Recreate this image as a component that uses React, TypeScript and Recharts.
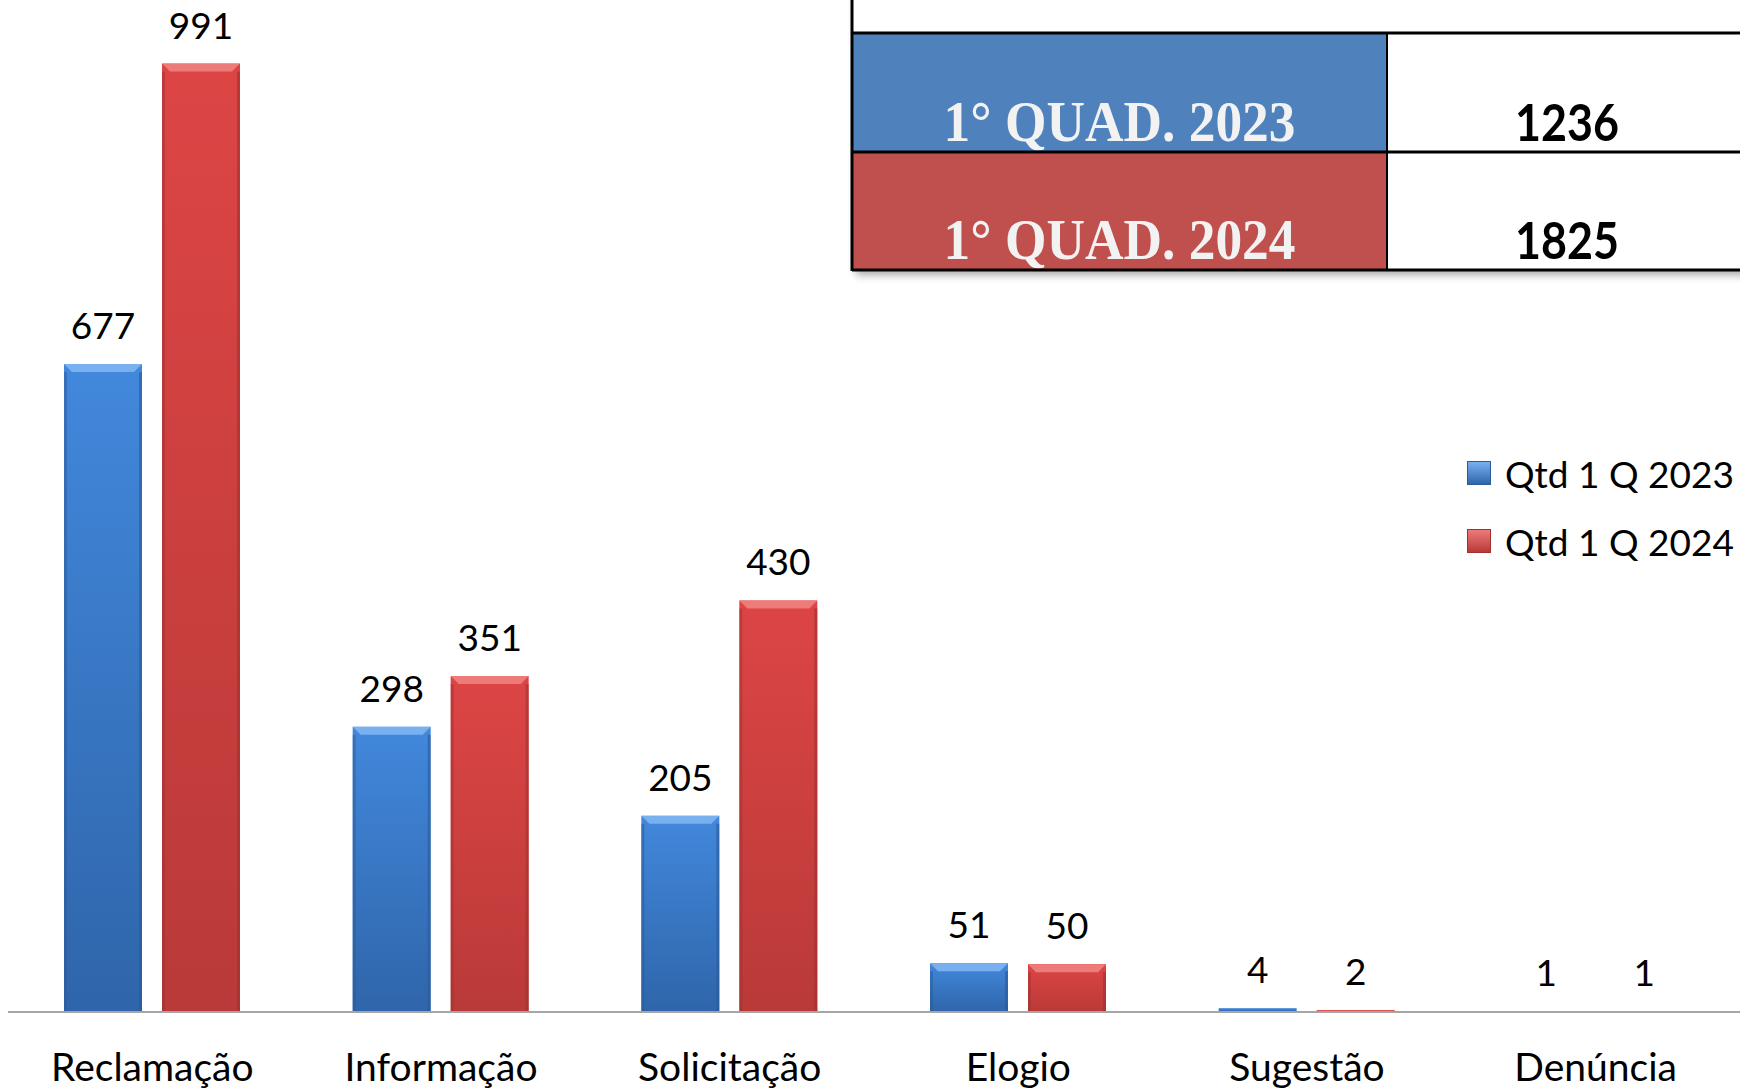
import { BarChart, Bar, XAxis, YAxis, Legend, LabelList } from 'recharts'

const categories = ['Reclamação', 'Informação', 'Solicitação', 'Elogio', 'Sugestão', 'Denúncia']
const qtd2023 = [677, 298, 205, 51, 4, 1]
const qtd2024 = [991, 351, 430, 50, 2, 1]
const seriesNames = ['Qtd 1 Q 2023', 'Qtd 1 Q 2024']
const totalLabels = ['1° QUAD. 2023', '1° QUAD. 2024']
const totals = [1236, 1825]

const data = categories.map((name, i) => ({ name, q2023: qtd2023[i], q2024: qtd2024[i] }))

const FONT = 'Lato, "Open Sans", sans-serif'

const palette: Record<string, { top: string; bottom: string; bevel: string; edge: string }> = {
  q2023: { top: '#4288dc', bottom: '#2f65aa', bevel: '#79b0f0', edge: '#2a5a98' },
  q2024: { top: '#dd4545', bottom: '#b93a38', bevel: '#ec7b79', edge: '#a03030' },
}

// bar with a small bevel on top and darker sides, like the office 3d style
function BevelBar(props: any) {
  const { x, y, width, height, dataKey } = props
  const c = palette[dataKey as string] || palette.q2023
  if (height <= 0) return null
  const b = Math.min(8, height / 2)
  const s = Math.min(3, width / 10)
  return (
    <g>
      <rect x={x} y={y} width={width} height={height} fill={`url(#grad-${dataKey})`} />
      {height > 4 && (
        <>
          <polygon
            points={`${x},${y} ${x + width},${y} ${x + width - b},${y + b} ${x + b},${y + b}`}
            fill={c.bevel}
          />
          <rect x={x} y={y + b} width={s} height={height - b} fill={c.edge} opacity={0.5} />
          <rect x={x + width - s} y={y + b} width={s} height={height - b} fill={c.edge} opacity={0.6} />
        </>
      )}
    </g>
  )
}

function CategoryTick(props: any) {
  const { x, y, payload } = props
  return (
    <text x={x} y={y + 69} textAnchor="middle" fontFamily={FONT} fontSize={39} fill="#000">
      {payload.value}
    </text>
  )
}

function LegendBox() {
  const keys = ['q2023', 'q2024']
  return (
    <div style={{ fontFamily: FONT, fontSize: 37, color: '#000' }}>
      {seriesNames.map((n, i) => (
        <div key={n} style={{ display: 'flex', alignItems: 'center', height: 68 }}>
          <span
            style={{
              display: 'inline-block',
              width: 22,
              height: 22,
              marginRight: 14,
              background: `linear-gradient(${palette[keys[i]].bevel}, ${palette[keys[i]].bottom})`,
              border: `1px solid ${palette[keys[i]].edge}`,
            }}
          />
          <span>{n}</span>
        </div>
      ))}
    </div>
  )
}

function TotalsTable() {
  const left = 852
  const mid = 1387
  const right = 1750
  const rows = [
    [33, 152],
    [152, 270],
  ]
  const fills = ['#4f81bd', '#c0504d']
  return (
    <svg width={1740} height={300} style={{ position: 'absolute', left: 0, top: 0, pointerEvents: 'none' }}>
      <defs>
        <filter id="tshadow" x="-5%" y="-5%" width="110%" height="130%">
          <feGaussianBlur stdDeviation="4" />
        </filter>
      </defs>
      <rect x={left + 4} y={0} width={right - left} height={275} fill="#000" opacity={0.35} filter="url(#tshadow)" />
      <rect x={left} y={-5} width={right - left} height={38} fill="#fff" />
      {rows.map(([t, bt], i) => (
        <g key={i}>
          <rect x={left} y={t} width={mid - left} height={bt - t} fill={fills[i]} />
          <rect x={mid} y={t} width={right - mid} height={bt - t} fill="#fff" />
          <text
            x={(left + mid) / 2}
            y={bt - 11}
            textAnchor="middle"
            fontFamily='"Liberation Serif", "Times New Roman", serif'
            fontWeight="bold"
            fontSize={58}
            fill="#f2f2f2"
            textLength={352}
            lengthAdjust="spacingAndGlyphs"
          >
            {totalLabels[i]}
          </text>
          <text
            x={1567}
            y={bt - 11}
            textAnchor="middle"
            fontFamily={FONT}
            fontWeight="bold"
            fontSize={52}
            fill="#000"
            textLength={104}
            lengthAdjust="spacingAndGlyphs"
          >
            {totals[i]}
          </text>
        </g>
      ))}
      <line x1={left} y1={-2} x2={left} y2={271} stroke="#000" strokeWidth={3} />
      <line x1={left} y1={33} x2={right} y2={33} stroke="#000" strokeWidth={3} />
      <line x1={left} y1={152} x2={right} y2={152} stroke="#000" strokeWidth={3} />
      <line x1={left} y1={270} x2={right} y2={270} stroke="#000" strokeWidth={3} />
      <line x1={mid} y1={33} x2={mid} y2={270} stroke="#000" strokeWidth={2} />
    </svg>
  )
}

export default function App() {
  return (
    <div style={{ position: 'absolute', left: 0, top: 0, width: 1740, height: 1089, background: '#fff', overflow: 'hidden' }}>
      <BarChart
        width={1740}
        height={1089}
        data={data}
        margin={{ top: 55, right: 0, left: 8, bottom: 0 }}
        barGap={20}
        barSize={78}
      >
        <defs>
          {Object.keys(palette).map((k) => (
            <linearGradient key={k} id={`grad-${k}`} x1="0" y1="0" x2="0" y2="1">
              <stop offset="0%" stopColor={palette[k].top} />
              <stop offset="100%" stopColor={palette[k].bottom} />
            </linearGradient>
          ))}
        </defs>
        <XAxis
          dataKey="name"
          height={77}
          tickLine={false}
          tickSize={0}
          tickMargin={0}
          axisLine={{ stroke: '#a6a6a6', strokeWidth: 2 }}
          tick={<CategoryTick />}
          interval={0}
        />
        <YAxis hide domain={[0, 1000]} />
        <Legend
          content={<LegendBox />}
          wrapperStyle={{ position: 'absolute', left: 1467, top: 439, width: 280, height: 0, overflow: 'visible' }}
        />
        <Bar dataKey="q2023" name={seriesNames[0]} fill="#3d7ccc" shape={<BevelBar />} isAnimationActive={false}>
          <LabelList dataKey="q2023" position="top" offset={25} fill="#000" fontSize={37} fontFamily={FONT} />
        </Bar>
        <Bar dataKey="q2024" name={seriesNames[1]} fill="#d94141" shape={<BevelBar />} isAnimationActive={false}>
          <LabelList dataKey="q2024" position="top" offset={25} fill="#000" fontSize={37} fontFamily={FONT} />
        </Bar>
      </BarChart>
      <TotalsTable />
    </div>
  )
}
